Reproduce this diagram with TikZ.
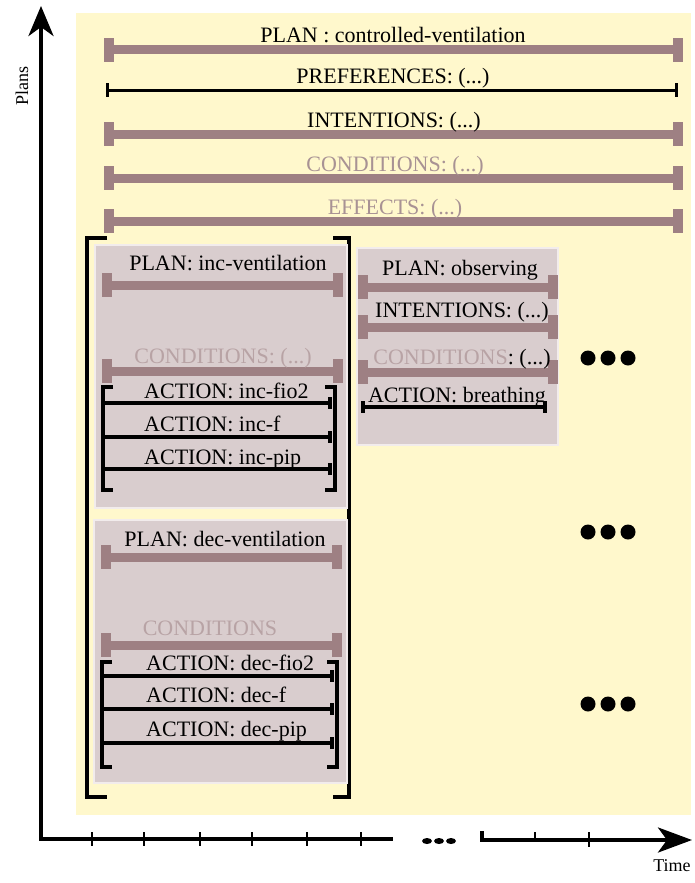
\documentclass[tikz,border=0pt]{standalone}
\usepackage{fontspec}
\setmainfont{Liberation Serif}
\usetikzlibrary{arrows.meta}
\definecolor{bg}{HTML}{FFF8CC}
\definecolor{barc}{HTML}{9E8083}
\definecolor{boxc}{HTML}{D9CDCE}
\definecolor{boxe}{HTML}{F2ECEC}
\definecolor{gtext}{HTML}{A89294}
\definecolor{ltext}{HTML}{B8A3A5}
\newcommand\MBar[3]{%
  \fill[barc] ({#1-5},{#3-12}) rectangle ({#1+5},{#3+12});
  \fill[barc] ({#2-5},{#3-12}) rectangle ({#2+5},{#3+12});
  \fill[barc] (#1,{#3-4.5}) rectangle (#2,{#3+4.5});}
\newcommand\ABar[3]{%
  \draw[actline] (#1,#3) -- (#2,#3);
  \draw[actline] (#2,{#3-6}) -- (#2,{#3+6});}
\newcommand\Brk[5]{% xl xr ytop ybot stub
  \draw[brk] ({#1+#5},#3) -- (#1,#3) -- (#1,#4) -- ({#1+#5},#4);
  \draw[brk] ({#2-#5},#3) -- (#2,#3) -- (#2,#4) -- ({#2-#5},#4);}
\begin{document}
\begin{tikzpicture}[x=1pt,y=-1pt,
  font=\fontsize{22}{26}\selectfont,
  lbl/.style={inner sep=0pt, anchor=base},
  axisline/.style={line width=4pt, black, line join=miter},
  tickline/.style={line width=2.5pt, black},
  actline/.style={line width=3.2pt, black},
  brk/.style={line width=3.8pt, black, line join=miter},
  bigbrk/.style={line width=4pt, black, line join=miter},
  planbox/.style={fill=boxc, draw=boxe, line width=2pt},
  axlabel/.style={inner sep=0pt, font=\fontsize{18}{20}\selectfont}]
\useasboundingbox (0,0) rectangle (694,883);

% background
\fill[bg] (76,13) rectangle (691,815);

% axes
\draw[axisline, {Stealth[length=30pt,width=25pt,inset=9pt]}-] (41,6) -- (41,839) -- (393,839);
\foreach \x in {92,144,200,252,307,361} \draw[tickline] (\x,832) -- (\x,846);
\foreach \x in {427,439,451} \fill (\x,841) ellipse (5 and 3);
\draw[axisline, -{Stealth[length=34pt,width=25pt,inset=9pt]}] (482,831) -- (482,840) -- (692,840);
\draw[tickline] (535,832) -- (535,840);
\draw[tickline] (589,832) -- (589,847);
\node[axlabel, rotate=90] (plans) at (22,86) {Plans};
\node[axlabel] (time) at (672,866) {Time};

% top-level plan
\MBar{109}{678}{50}
\node[lbl] (p0) at (393,43) {PLAN : controlled-ventilation};
\draw[line width=3pt] (107,90) -- (676,90);
\draw[line width=3pt] (107,83) -- (107,97);
\draw[line width=3pt] (676,83) -- (676,97);
\node[lbl] (pref) at (393,83) {PREFERENCES: (...)};
\MBar{109}{678}{134}
\node[lbl] (int0) at (394,127) {INTENTIONS: (...)};
\MBar{109}{678}{178}
\node[lbl, text=gtext] (cond0) at (395,171) {CONDITIONS: (...)};
\MBar{109}{678}{221}
\node[lbl, text=gtext] (eff0) at (395,214) {EFFECTS: (...)};

% big bracket
\draw[bigbrk] (107,238) -- (87,238) -- (87,797) -- (107,797);
\draw[bigbrk] (333,238) -- (349,238) -- (349,797) -- (333,797);

% inc-ventilation box
\draw[planbox] (95,245) rectangle (347,508);
\MBar{106.5}{337.5}{285}
\node[lbl] (pinc) at (228,270) {PLAN: inc-ventilation};
\MBar{106.5}{337.5}{371}
\node[lbl, text=ltext] (cinc) at (223,363) {CONDITIONS: (...)};
\Brk{103}{335}{387}{490}{10}
\ABar{103}{330}{403}
\ABar{103}{330}{437}
\ABar{103}{330}{469}
\node[lbl, anchor=base west] (a1) at (144,398) {ACTION: inc-fio2};
\node[lbl, anchor=base west] (a2) at (144,431) {ACTION: inc-f};
\node[lbl, anchor=base west] (a3) at (144,464) {ACTION: inc-pip};

% dec-ventilation box
\draw[planbox] (94,520) rectangle (347,783);
\MBar{106}{337}{557}
\node[lbl] (pdec) at (225,546) {PLAN: dec-ventilation};
\MBar{106}{337}{645}
\node[lbl, text=ltext] (cdec) at (210,635) {CONDITIONS};
\Brk{102}{337}{662}{767}{10}
\ABar{102}{332}{676}
\ABar{102}{332}{709}
\ABar{102}{332}{743}
\node[lbl, anchor=base west] (d1) at (146,670) {ACTION: dec-fio2};
\node[lbl, anchor=base west] (d2) at (146,702) {ACTION: dec-f};
\node[lbl, anchor=base west] (d3) at (146,736) {ACTION: dec-pip};

% observing box
\draw[planbox] (357,248) rectangle (558,445);
\MBar{363}{552.5}{287}
\node[lbl] (pobs) at (460,275) {PLAN: observing};
\MBar{363}{552.5}{327}
\node[lbl] (iobs) at (462,317) {INTENTIONS: (...)};
\MBar{363}{552.5}{372}
\node[lbl] (cobs) at (462,364) {\textcolor{ltext}{CONDITIONS}: (...)};
\draw[actline] (363,407) -- (545,407);
\draw[actline] (363,401) -- (363,413);
\draw[actline] (545,401) -- (545,413);
\node[lbl] (aobs) at (457,402) {ACTION: breathing};

% continuation dots
\foreach \y in {358,532,704}
  \foreach \x in {588,608,628}
    \fill (\x,\y) circle (7.5);
\end{tikzpicture}
\end{document}
